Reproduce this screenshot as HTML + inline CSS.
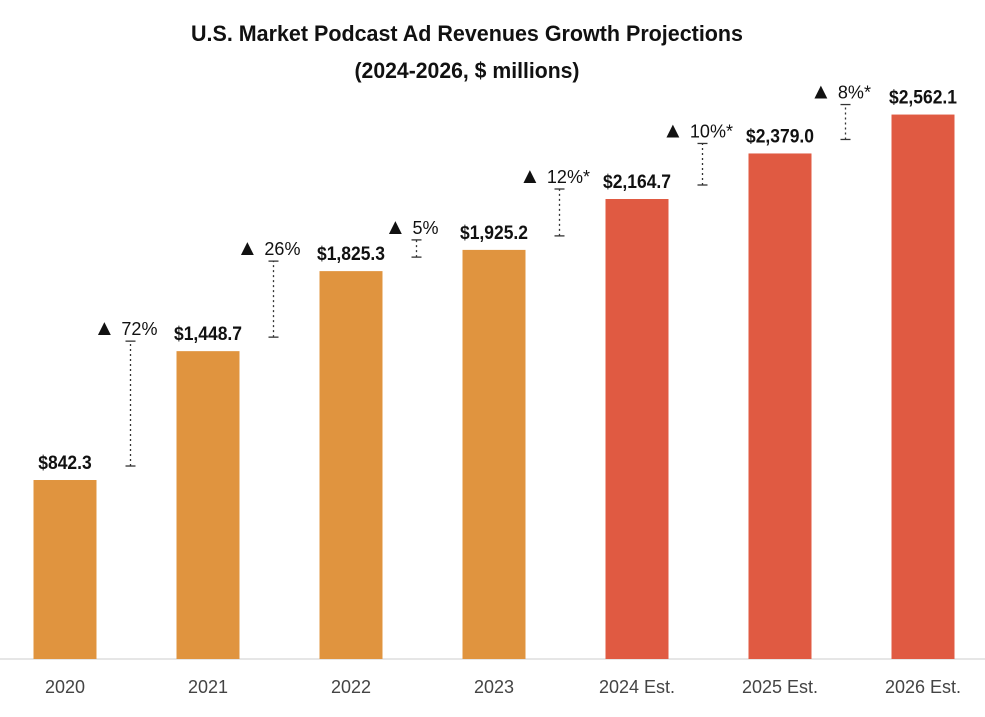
<!DOCTYPE html>
<html><head><meta charset="utf-8"><style>
body{margin:0;background:#fff;}
svg{display:block;font-family:"Liberation Sans",sans-serif;}
</style></head><body>
<svg id="chart" width="985" height="717" viewBox="0 0 985 717">
<text x="467" y="41" text-anchor="middle" font-size="22" font-weight="bold" fill="#111" textLength="552" lengthAdjust="spacingAndGlyphs">U.S. Market Podcast Ad Revenues Growth Projections</text>
<text x="467" y="78" text-anchor="middle" font-size="22" font-weight="bold" fill="#111" textLength="225" lengthAdjust="spacingAndGlyphs">(2024-2026, $ millions)</text>
<line x1="0" y1="659" x2="985" y2="659" stroke="#ccc" stroke-width="1"/>
<g id="bars"></g>
</svg>
<script>
const categories=["2020","2021","2022","2023","2024 Est.","2025 Est.","2026 Est."];
const revenues=[842.3,1448.7,1825.3,1925.2,2164.7,2379.0,2562.1];
const valueLabels=["$842.3","$1,448.7","$1,825.3","$1,925.2","$2,164.7","$2,379.0","$2,562.1"];
const growthLabels=["72%","26%","5%","12%*","10%*","8%*"];
const estimated=[false,false,false,false,true,true,true];

const NS="http://www.w3.org/2000/svg";
const g=document.getElementById("bars");
const baseY=659, scale=0.2125, step=143, x0=65, barW=63;
function xC(i){return x0+i*step;}
function yV(v){return baseY-v*scale;}
function mk(t,a){const e=document.createElementNS(NS,t);for(const k in a)e.setAttribute(k,a[k]);g.appendChild(e);return e;}
categories.forEach((c,i)=>{
  const top=yV(revenues[i]);
  const r=mk("rect",{x:xC(i)-barW/2,y:top,width:barW,height:baseY-top,fill:estimated[i]?"#E05A42":"#E0943F"});
  
  
  const vl=mk("text",{x:xC(i),y:top-11,"text-anchor":"middle","font-size":"19","font-weight":"bold",fill:"#111",transform:"translate("+xC(i)+",0) scale(0.92,1) translate("+(-xC(i))+",0)"});
  vl.textContent=valueLabels[i];
  
  
  const xl=mk("text",{x:xC(i),y:693,"text-anchor":"middle","font-size":"18",fill:"#444"});
  xl.textContent=c;
  
  
});
growthLabels.forEach((lab,i)=>{
  const x=(xC(i)+xC(i+1))/2-6;
  const y1=yV(revenues[i])-14, y2=yV(revenues[i+1])-10;
  const l=mk("line",{x1:x,y1:y1,x2:x,y2:y2,stroke:"#333","stroke-width":"1.3","stroke-dasharray":"2,3"});
  
  
  [y1,y2].forEach(yy=>{const t=mk("line",{x1:x-5,y1:yy,x2:x+5,y2:yy,stroke:"#333","stroke-width":"1.3"});
    
    });
  const t=mk("text",{x:x-5,y:y2-6,"text-anchor":"middle","font-size":"18",fill:"#111"});
  const tri=document.createElementNS(NS,"tspan");tri.setAttribute("font-size","22");tri.textContent="\u25B2 ";t.appendChild(tri);
  const tv=document.createElementNS(NS,"tspan");tv.textContent=lab;t.appendChild(tv);
  
  
});
</script>
</body></html>
